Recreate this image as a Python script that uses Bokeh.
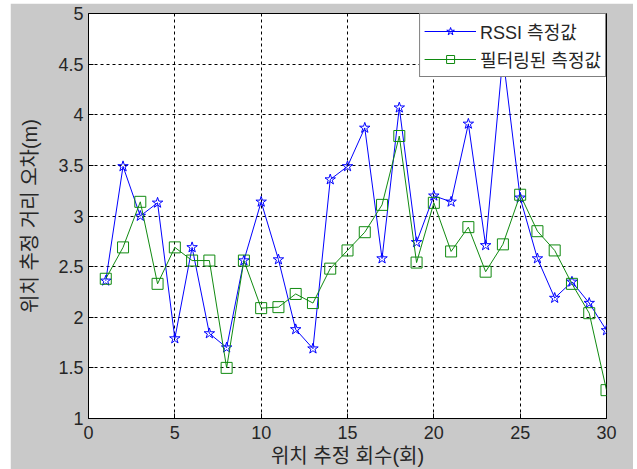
from bokeh.plotting import figure
from bokeh.models import FixedTicker, Legend, LegendItem, Range1d
from bokeh.embed import file_html
from bokeh.resources import INLINE

# ---- data ----
trial = list(range(1, 31))
rssi = [2.36, 3.49, 3.00, 3.13, 1.79, 2.69, 1.84, 1.70, 2.56, 3.14,
        2.57, 1.88, 1.69, 3.36, 3.49, 3.87, 2.58, 4.07, 2.74, 3.20,
        3.14, 3.91, 2.71, 4.58, 3.18, 2.58, 2.19, 2.35, 2.14, 1.87]
filtered = [2.38, 2.69, 3.14, 2.33, 2.69, 2.56, 2.56, 1.50, 2.56, 2.09,
            2.10, 2.23, 2.14, 2.48, 2.66, 2.84, 3.11, 3.79, 2.54, 3.13,
            2.65, 2.89, 2.45, 2.72, 3.21, 2.85, 2.66, 2.33, 2.04, 1.28]
x_ticks = [0, 5, 10, 15, 20, 25, 30]
x_tick_labels = ["0", "5", "10", "15", "20", "25", "30"]
y_ticks = [1, 1.5, 2, 2.5, 3, 3.5, 4, 4.5, 5]
y_tick_labels = ["1", "1.5", "2", "2.5", "3", "3.5", "4", "4.5", "5"]
label_rssi = "RSSI 측정값"
label_filt = "필터링된 측정값"
x_title = "위치 추정 회수(회)"
y_title = "위치 추정 거리 오차(m)"

KR = "'Liberation Sans', 'Noto Sans CJK KR', sans-serif"
NUM = "'Liberation Sans Narrow', 'Liberation Sans', sans-serif"
GRAY = "#c9c9c9"
TXT = "#262626"

p = figure(width=623, height=466, output_backend="svg", toolbar_location=None,
           x_range=Range1d(0, 30), y_range=Range1d(1, 5),
           min_border_left=78, min_border_right=27, min_border_top=10,
           min_border_bottom=46)
p.styles = {"margin-top": "3px", "margin-left": "10px"}
p.border_fill_color = GRAY
p.background_fill_color = "white"
p.outline_line_color = "black"
p.outline_line_width = 1

for ax, ticks, labels in ((p.xaxis[0], x_ticks, x_tick_labels),
                          (p.yaxis[0], y_ticks, y_tick_labels)):
    ax.ticker = FixedTicker(ticks=ticks)
    ax.major_label_overrides = {t: l for t, l in zip(ticks, labels)}
    ax.major_tick_in = 5
    ax.major_tick_out = 0
    ax.minor_tick_line_color = None
    ax.axis_line_color = "black"
    ax.major_tick_line_color = "black"
    ax.major_label_text_font = NUM
    ax.major_label_text_font_size = "18px"
    ax.major_label_text_color = TXT
    ax.axis_label_text_font = KR
    ax.axis_label_text_font_size = "20px"
    ax.axis_label_text_font_style = "normal"
    ax.axis_label_text_color = TXT

p.xaxis.axis_label = x_title
p.yaxis.axis_label = y_title
p.xaxis.major_label_standoff = 7
p.xaxis.axis_label_standoff = 3
p.yaxis.major_label_standoff = 5
p.yaxis.axis_label_standoff = 14

for g in (p.xgrid[0], p.ygrid[0]):
    g.grid_line_color = "black"
    g.grid_line_dash = "3 3"
    g.grid_line_width = 1
p.xgrid.ticker = FixedTicker(ticks=x_ticks)
p.ygrid.ticker = FixedTicker(ticks=y_ticks)

BLUE = "#0000ff"
GREEN = "#108a10"

l1 = p.line(trial, rssi, line_color=BLUE, line_width=1)
s1 = p.scatter(trial, rssi, marker="star", size=11, line_color=BLUE,
               fill_alpha=0, line_width=1)
l2 = p.line(trial, filtered, line_color=GREEN, line_width=1)
s2 = p.scatter(trial, filtered, marker="square", size=11, line_color=GREEN,
               fill_alpha=0, line_width=1)

legend = Legend(items=[LegendItem(label=label_rssi, renderers=[l1, s1]),
                       LegendItem(label=label_filt, renderers=[l2, s2])],
                location="top_right", margin=0, padding=4, spacing=2,
                label_height=20, glyph_height=20, glyph_width=52,
                label_standoff=4,
                label_text_font=KR, label_text_font_size="18px",
                label_text_color=TXT,
                border_line_color="black", border_line_width=1,
                background_fill_color="white", background_fill_alpha=1)
p.add_layout(legend, "center")

open("out.html", "w").write(file_html(p, INLINE))
